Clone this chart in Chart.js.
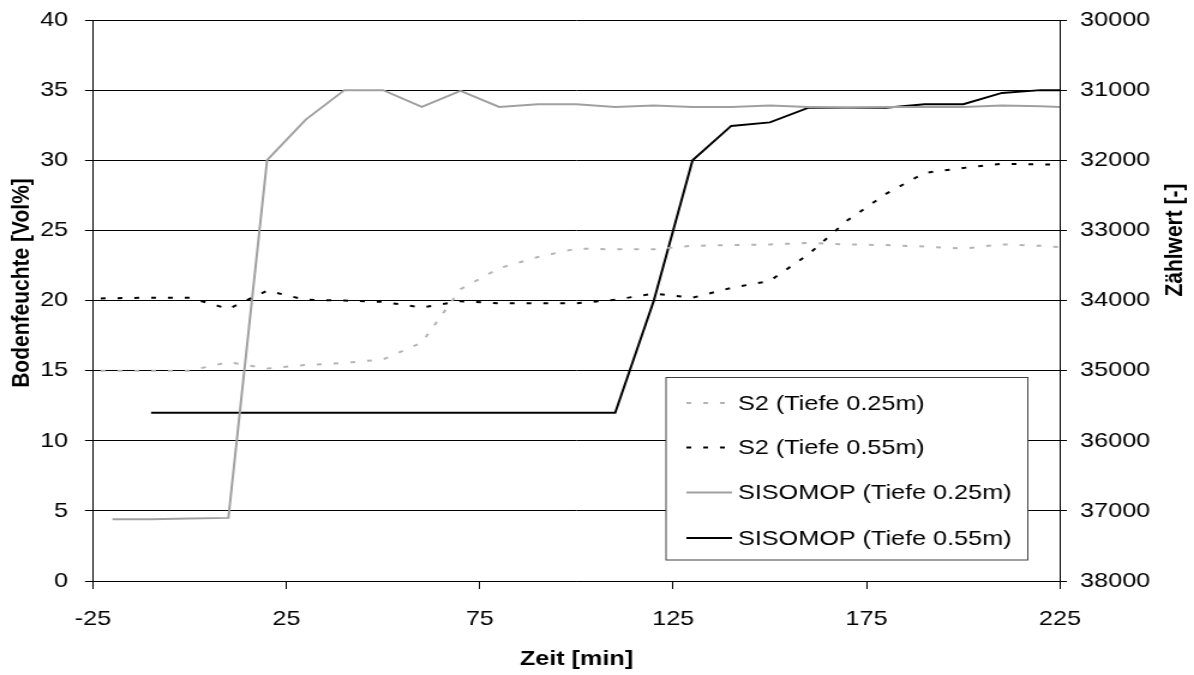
<!DOCTYPE html>
<html lang="de">
<head>
<meta charset="UTF-8">
<title>Bodenfeuchte und Zählwert</title>
<script src="https://cdn.jsdelivr.net/npm/chart.js@4"></script>
<style>
  html, body { margin: 0; padding: 0; background: #fff; overflow: hidden; }
  /* the original picture is stretched horizontally, so the canvas is too */
  #wrap { width: 995px; height: 675px; transform: scaleX(1.2); transform-origin: 0 0; }
</style>
</head>
<body>
<div id="wrap"><canvas id="chart" width="995" height="675"></canvas></div>
<script>
// S2 probes, Bodenfeuchte [Vol%] (left axis)
const s2Time    = [-23, -10, 0, 10, 20, 30, 40, 50, 60, 70, 80, 90, 100, 110, 120, 130, 140, 150, 160, 170, 180, 190, 200, 210, 220, 225];
const s2Shallow = [15.0, 15.0, 15.0, 15.6, 15.15, 15.4, 15.55, 15.8, 17.0, 20.8, 22.3, 23.1, 23.7, 23.65, 23.65, 23.9, 23.95, 24.0, 24.1, 24.0, 23.95, 23.85, 23.7, 24.0, 23.9, 23.8];
const s2Deep    = [20.15, 20.2, 20.2, 19.4, 20.7, 20.05, 20.0, 19.9, 19.5, 19.95, 19.8, 19.8, 19.8, 20.05, 20.5, 20.2, 20.9, 21.4, 23.3, 25.7, 27.6, 29.1, 29.45, 29.75, 29.7, 29.7];

// SISOMOP, Zählwert [-] (right axis, reversed)
const sisoTime    = [-20, -10, 0, 10, 20, 30, 40, 50, 60, 70, 80, 90, 100, 110, 120, 130, 140, 150, 160, 170, 180, 190, 200, 210, 220, 225];
const sisoShallow = [37120, 37120, 37110, 37100, 32000, 31420, 31000, 31000, 31240, 31010, 31240, 31200, 31200, 31240, 31220, 31240, 31240, 31220, 31240, 31250, 31240, 31240, 31240, 31220, 31230, 31240];
const sisoDeep    = [null, 35600, 35600, 35600, 35600, 35600, 35600, 35600, 35600, 35600, 35600, 35600, 35600, 35600, 34000, 32000, 31510, 31460, 31250, 31250, 31250, 31200, 31200, 31040, 31000, 31000];

const seriesLabels = ["S2 (Tiefe 0.25m)", "S2 (Tiefe 0.55m)", "SISOMOP (Tiefe 0.25m)", "SISOMOP (Tiefe 0.55m)"];

const FONT = "'Liberation Sans', Arial, sans-serif";
Chart.defaults.font.family = FONT;
Chart.defaults.font.size = 21;
Chart.defaults.color = "#000";

function pts(xs, ys) {
    return xs.map((x, i) => ({ x: x, y: ys[i] }));
}

// legend box inside the plot + the two rotated axis titles
const extras = {
    id: "extras",
    afterDraw(chart) {
        const ctx = chart.ctx;
        ctx.save();
        ctx.fillStyle = "#000";
        ctx.font = "bold 21px " + FONT;
        ctx.textAlign = "center";
        ctx.textBaseline = "middle";
        [["Bodenfeuchte [Vol%]", 18, 283], ["Zählwert [-]", 979, 240]].forEach(t => {
            ctx.save();
            ctx.translate(t[1], t[2]);
            ctx.rotate(-Math.PI / 2);
            ctx.fillText(t[0], 0, 0);
            ctx.restore();
        });

        // legend
        const bx = 555, by = 377.5, bw = 301.5, bh = 182.5;
        ctx.fillStyle = "#fff";
        ctx.fillRect(bx, by, bw, bh);
        ctx.strokeStyle = "#404040";
        ctx.lineWidth = 1;
        ctx.strokeRect(bx, by, bw, bh);
        ctx.font = "21px " + FONT;
        ctx.textAlign = "left";
        const rows = [403, 447.5, 492.5, 538];
        chart.data.datasets.forEach((ds, i) => {
            const y = rows[i];
            ctx.beginPath();
            ctx.strokeStyle = ds.borderColor;
            ctx.lineWidth = ds.borderWidth;
            ctx.setLineDash(ds.borderDash || []);
            ctx.moveTo(572, y);
            ctx.lineTo(610, y);
            ctx.stroke();
            ctx.setLineDash([]);
            ctx.fillStyle = "#000";
            ctx.fillText(ds.label, 615, y + 1);
        });
        ctx.restore();
    }
};

function fixVertical(width) {
    return function (s) {
        s.width = width;
        s.paddingTop = 0;
        s.paddingBottom = 0;
    };
}

new Chart(document.getElementById("chart"), {
    type: "line",
    data: {
        datasets: [{
            label: seriesLabels[0],
            data: pts(s2Time, s2Shallow),
            yAxisID: "y",
            borderColor: "#b4b4b4",
            borderWidth: 2,
            borderDash: [4, 10]
        }, {
            label: seriesLabels[1],
            data: pts(s2Time, s2Deep),
            yAxisID: "y",
            borderColor: "#000",
            borderWidth: 2,
            borderDash: [4, 10]
        }, {
            label: seriesLabels[2],
            data: pts(sisoTime, sisoShallow),
            yAxisID: "y2",
            borderColor: "#a0a0a0",
            borderWidth: 2
        }, {
            label: seriesLabels[3],
            data: pts(sisoTime, sisoDeep),
            yAxisID: "y2",
            borderColor: "#000",
            borderWidth: 2
        }]
    },
    options: {
        responsive: false,
        animation: false,
        layout: { padding: { top: 20, left: 0, right: 0, bottom: 0 } },
        elements: { point: { radius: 0 }, line: { tension: 0 } },
        plugins: { legend: { display: false }, tooltip: { enabled: false } },
        scales: {
            x: {
                type: "linear",
                min: -25,
                max: 225,
                ticks: { stepSize: 50, padding: 18, maxRotation: 0, autoSkip: false },
                grid: { drawOnChartArea: false, color: "#000", tickLength: 8 },
                border: { color: "#000" },
                title: { display: true, text: "Zeit [min]", font: { weight: "bold", size: 21 }, padding: { top: 0, bottom: 3 } },
                afterFit(s) { s.height = 94; s.paddingLeft = 0; s.paddingRight = 0; }
            },
            y: {
                position: "left",
                min: 0,
                max: 40,
                ticks: { stepSize: 5, padding: 14 },
                grid: { color: "#000", tickLength: 6.7 },
                border: { color: "#000" },
                afterFit: fixVertical(77.5)
            },
            y2: {
                position: "right",
                min: 30000,
                max: 38000,
                reverse: true,
                ticks: { stepSize: 1000, padding: 11, callback: v => String(v) },
                grid: { drawOnChartArea: false, color: "#000", tickLength: 5.8 },
                border: { color: "#000" },
                afterFit: fixVertical(111.7)
            }
        }
    },
    plugins: [extras]
});
</script>
</body>
</html>
